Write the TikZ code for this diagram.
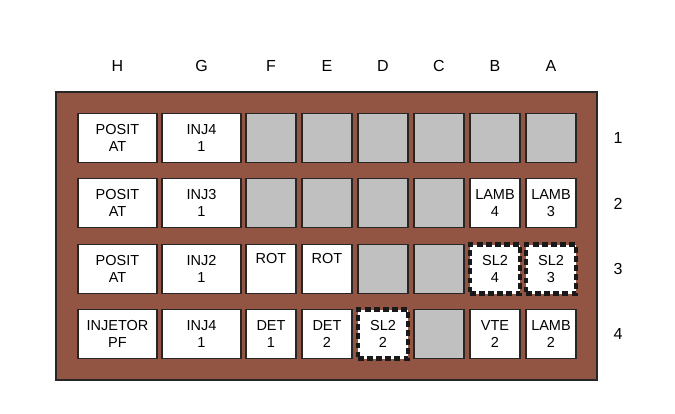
\documentclass[tikz,border=0pt]{standalone}
\usepackage{fontspec}
\setmainfont{Liberation Sans}
\usepackage{xcolor}
\usepackage{tikz}
\definecolor{rackbrown}{HTML}{925543}
\definecolor{slotgray}{HTML}{C0C0C0}
\definecolor{edgegray}{HTML}{262626}
\tikzset{
  slot/.style={draw=edgegray,line width=1.3pt,fill=white,minimum height=49pt,
    align=center,inner sep=0pt,font=\fontsize{14.5}{16.5}\selectfont},
  wideslot/.style={slot,minimum width=79pt},
  thinslot/.style={slot,minimum width=50pt},
  emptyslot/.style={thinslot,fill=slotgray},
  sparslot/.style={thinslot,draw=black!90,line width=4.8pt,dash pattern=on 5.5pt off 3.6pt},
  headlabel/.style={font=\fontsize{16}{18}\selectfont}
}
\begin{document}
\begin{tikzpicture}[x=1pt,y=-1pt]
      \useasboundingbox (0,0) rectangle (675,413);
      \filldraw[fill=rackbrown,draw=edgegray,line width=1.3pt] (56,92) rectangle (597,380);
      % column and row labels
      \foreach \col/\x in {H/117.5,G/201.5,F/271,E/327,D/383,C/439,B/495,A/551}
        \node[headlabel] (lab\col) at (\x,65.5) {\col};
      \foreach \row/\y in {1/138,2/204,3/269,4/334}
        \node[headlabel] (row\row) at (618,\y) {\row};
      % row 1
      \node[wideslot] (h1) at (117.5,138) {POSIT\\AT};
      \node[wideslot] (g1) at (201.5,138) {INJ4\\1};
      \node[emptyslot] (f1) at (271,138) {};
      \node[emptyslot] (e1) at (327,138) {};
      \node[emptyslot] (d1) at (383,138) {};
      \node[emptyslot] (c1) at (439,138) {};
      \node[emptyslot] (b1) at (495,138) {};
      \node[emptyslot] (a1) at (551,138) {};
      % row 2
      \node[wideslot] (h2) at (117.5,203) {POSIT\\AT};
      \node[wideslot] (g2) at (201.5,203) {INJ3\\1};
      \node[emptyslot] (f2) at (271,203) {};
      \node[emptyslot] (e2) at (327,203) {};
      \node[emptyslot] (d2) at (383,203) {};
      \node[emptyslot] (c2) at (439,203) {};
      \node[thinslot] (b2) at (495,203) {LAMB\\4};
      \node[thinslot] (a2) at (551,203) {LAMB\\3};
      % row 3
      \node[wideslot] (h3) at (117.5,269) {POSIT\\AT};
      \node[wideslot] (g3) at (201.5,269) {INJ2\\1};
      \node[thinslot] (f3) at (271,269) {ROT\\\strut};
      \node[thinslot] (e3) at (327,269) {ROT\\\strut};
      \node[emptyslot] (d3) at (383,269) {};
      \node[emptyslot] (c3) at (439,269) {};
      \node[sparslot] (b3) at (495,269) {SL2\\4};
      \node[sparslot] (a3) at (551,269) {SL2\\3};
      % row 4
      \node[wideslot] (h4) at (117.5,334) {INJETOR\\PF};
      \node[wideslot] (g4) at (201.5,334) {INJ4\\1};
      \node[thinslot] (f4) at (271,334) {DET\\1};
      \node[thinslot] (e4) at (327,334) {DET\\2};
      \node[sparslot] (d4) at (383,334) {SL2\\2};
      \node[emptyslot] (c4) at (439,334) {};
      \node[thinslot] (b4) at (495,334) {VTE\\2};
      \node[thinslot] (a4) at (551,334) {LAMB\\2};
\end{tikzpicture}
\end{document}
